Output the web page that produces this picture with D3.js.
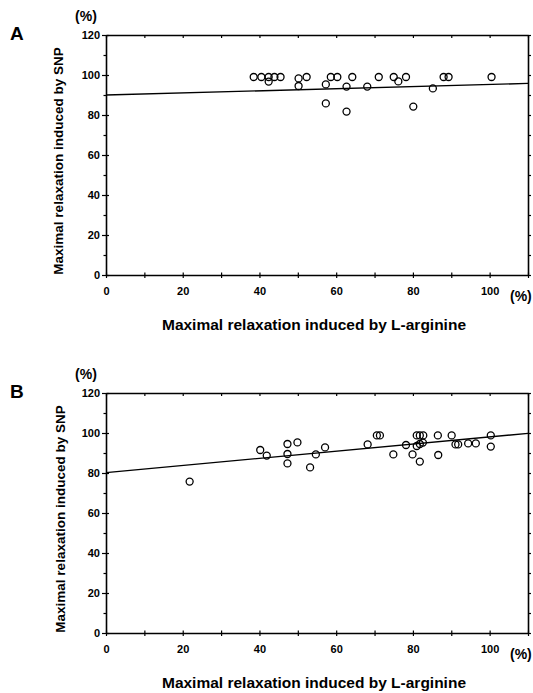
<!DOCTYPE html>
<html>
<head>
<meta charset="utf-8">
<script src="https://cdnjs.cloudflare.com/ajax/libs/d3/7.8.5/d3.min.js"></script>
<style>
  body { margin: 0; background: #fff; }
  text { font-family: "Liberation Sans", Arial, sans-serif; font-weight: bold; fill: #000; }
</style>
</head>
<body>
<div id="chart"></div>
<script>
// tick labels
var xTicks = [0, 20, 40, 60, 80, 100];
var yTicks = [0, 20, 40, 60, 80, 100, 120];
var xLabel = 'Maximal relaxation induced by L-arginine';
var yLabel = 'Maximal relaxation induced by SNP';

// panel A: L-arginine (x) vs SNP (y), %
var argA = [38.5, 40.5, 42.4, 42.4, 43.9, 45.5, 50.2, 50.2, 52.3, 57.3, 57.3, 58.6, 60.3,
  62.7, 62.7, 64.2, 68.1, 71.1, 75.0, 76.2, 78.2, 80.1, 85.2, 88.0, 89.3, 100.5];
var snpA = [99, 99, 99, 96.7, 99, 99, 98.3, 94.5, 99, 95.3, 85.8, 99, 99,
  94.2, 81.7, 99, 94.2, 99, 99, 96.8, 99, 84.2, 93.3, 99, 99, 99];

// panel B
var argB = [21.8, 40.2, 41.9, 47.3, 47.3, 47.3, 49.9, 53.2, 54.7, 57.1, 68.2, 70.6, 71.4,
  74.9, 78.2, 79.9, 81.0, 81.8, 82.6, 81.0, 81.8, 82.7, 81.8, 86.5, 86.6, 90.1,
  91.1, 91.8, 94.4, 96.4, 100.3, 100.3];
var snpB = [75.7, 91.5, 88.7, 94.5, 89.5, 84.8, 95.3, 82.8, 89.3, 92.8, 94.3, 98.8, 98.8,
  89.3, 94.0, 89.3, 93.5, 94.5, 95.2, 98.8, 98.8, 98.8, 85.7, 98.8, 89.0, 98.8,
  94.3, 94.3, 94.8, 94.8, 98.8, 93.2];

// regression line: SNP value at x = 0 and x = 110
var fitA = [90.0, 95.8];
var fitB = [80.2, 99.8];

var W = 533, H = 693;
var svg = d3.select('#chart').append('svg').attr('width', W).attr('height', H);

var panels = [
  { letter: 'A', arg: argA, snp: snpA, fit: fitA, top: 35, titleX: 58 },
  { letter: 'B', arg: argB, snp: snpB, fit: fitB, top: 393, titleX: 60 }
];

panels.forEach(function(p) {
  var left = 106, right = 528, bottom = p.top + 240;
  var x = d3.scaleLinear().domain([0, 110]).range([left, right]);
  var y = d3.scaleLinear().domain([0, 120]).range([bottom, p.top]);
  var g = svg.append('g');
  var every10 = d3.range(0, 111, 10);
  var every10y = d3.range(0, 121, 10);

  // bottom axis, ticks cross the line
  var ax = g.append('g').attr('transform', 'translate(0,' + bottom + ')')
    .call(d3.axisBottom(x).tickValues(every10).tickSizeOuter(0)
      .tickFormat(function(d) { return xTicks.indexOf(d) >= 0 ? d : ''; }));
  ax.selectAll('.tick line').attr('y1', -2.5).attr('y2', 3);
  ax.selectAll('.tick text').attr('y', 12).style('font-size', '11px')
    .style('font-family', '"Liberation Sans", Arial, sans-serif').style('font-weight', 'bold');

  var ay = g.append('g').attr('transform', 'translate(' + left + ',0)')
    .call(d3.axisLeft(y).tickValues(every10y).tickSizeOuter(0)
      .tickFormat(function(d) { return yTicks.indexOf(d) >= 0 ? d : ''; }));
  ay.selectAll('.tick line').attr('x1', function(d) { return d % 20 ? -2.5 : -4; }).attr('x2', function(d) { return d % 20 ? 0 : 3; });
  ay.selectAll('.tick text').attr('x', -6).attr('dy', '0.36em').style('font-size', '11px')
    .style('font-family', '"Liberation Sans", Arial, sans-serif').style('font-weight', 'bold');

  // top and right frame with small ticks
  g.append('g').attr('transform', 'translate(0,' + p.top + ')')
    .call(d3.axisTop(x).tickValues(every10).tickSize(-3).tickSizeOuter(0).tickFormat(''));
  g.append('g').attr('transform', 'translate(' + right + ',0)')
    .call(d3.axisRight(y).tickValues(every10y).tickSize(3).tickSizeOuter(0).tickFormat(''));

  g.selectAll('.domain').attr('stroke', '#000').attr('stroke-width', 1.6);
  g.selectAll('.tick line').attr('stroke', '#000').attr('stroke-width', 1.2);

  // regression line
  g.append('line')
    .attr('x1', x(0)).attr('y1', y(p.fit[0]))
    .attr('x2', x(110)).attr('y2', y(p.fit[1]))
    .attr('stroke', '#000').attr('stroke-width', 1.4);

  // points
  g.selectAll('circle.pt').data(p.arg).enter().append('circle')
    .attr('class', 'pt')
    .attr('cx', function(d) { return x(d); })
    .attr('cy', function(d, i) { return y(p.snp[i]); })
    .attr('r', 3.5)
    .attr('fill', 'none')
    .attr('stroke', '#000')
    .attr('stroke-width', 1.3);

  // labels
  g.append('text').attr('x', 10).attr('y', p.top + 5)
    .style('font-size', '19px').text(p.letter);
  g.append('text').attr('x', 86).attr('y', p.top - 14).attr('text-anchor', 'middle')
    .style('font-size', '14px').text('(%)');
  g.append('text').attr('x', 510).attr('y', bottom + 26)
    .style('font-size', '14px').text('(%)');
  g.append('text').attr('x', 314).attr('y', bottom + 55).attr('text-anchor', 'middle')
    .style('font-size', '15.5px').text(xLabel);
  g.append('text')
    .attr('transform', 'translate(' + (p.titleX + 5) + ',' + (p.top + 126) + ') rotate(-90)')
    .attr('text-anchor', 'middle')
    .style('font-size', '13.5px').text(yLabel);
});
</script>
</body>
</html>
